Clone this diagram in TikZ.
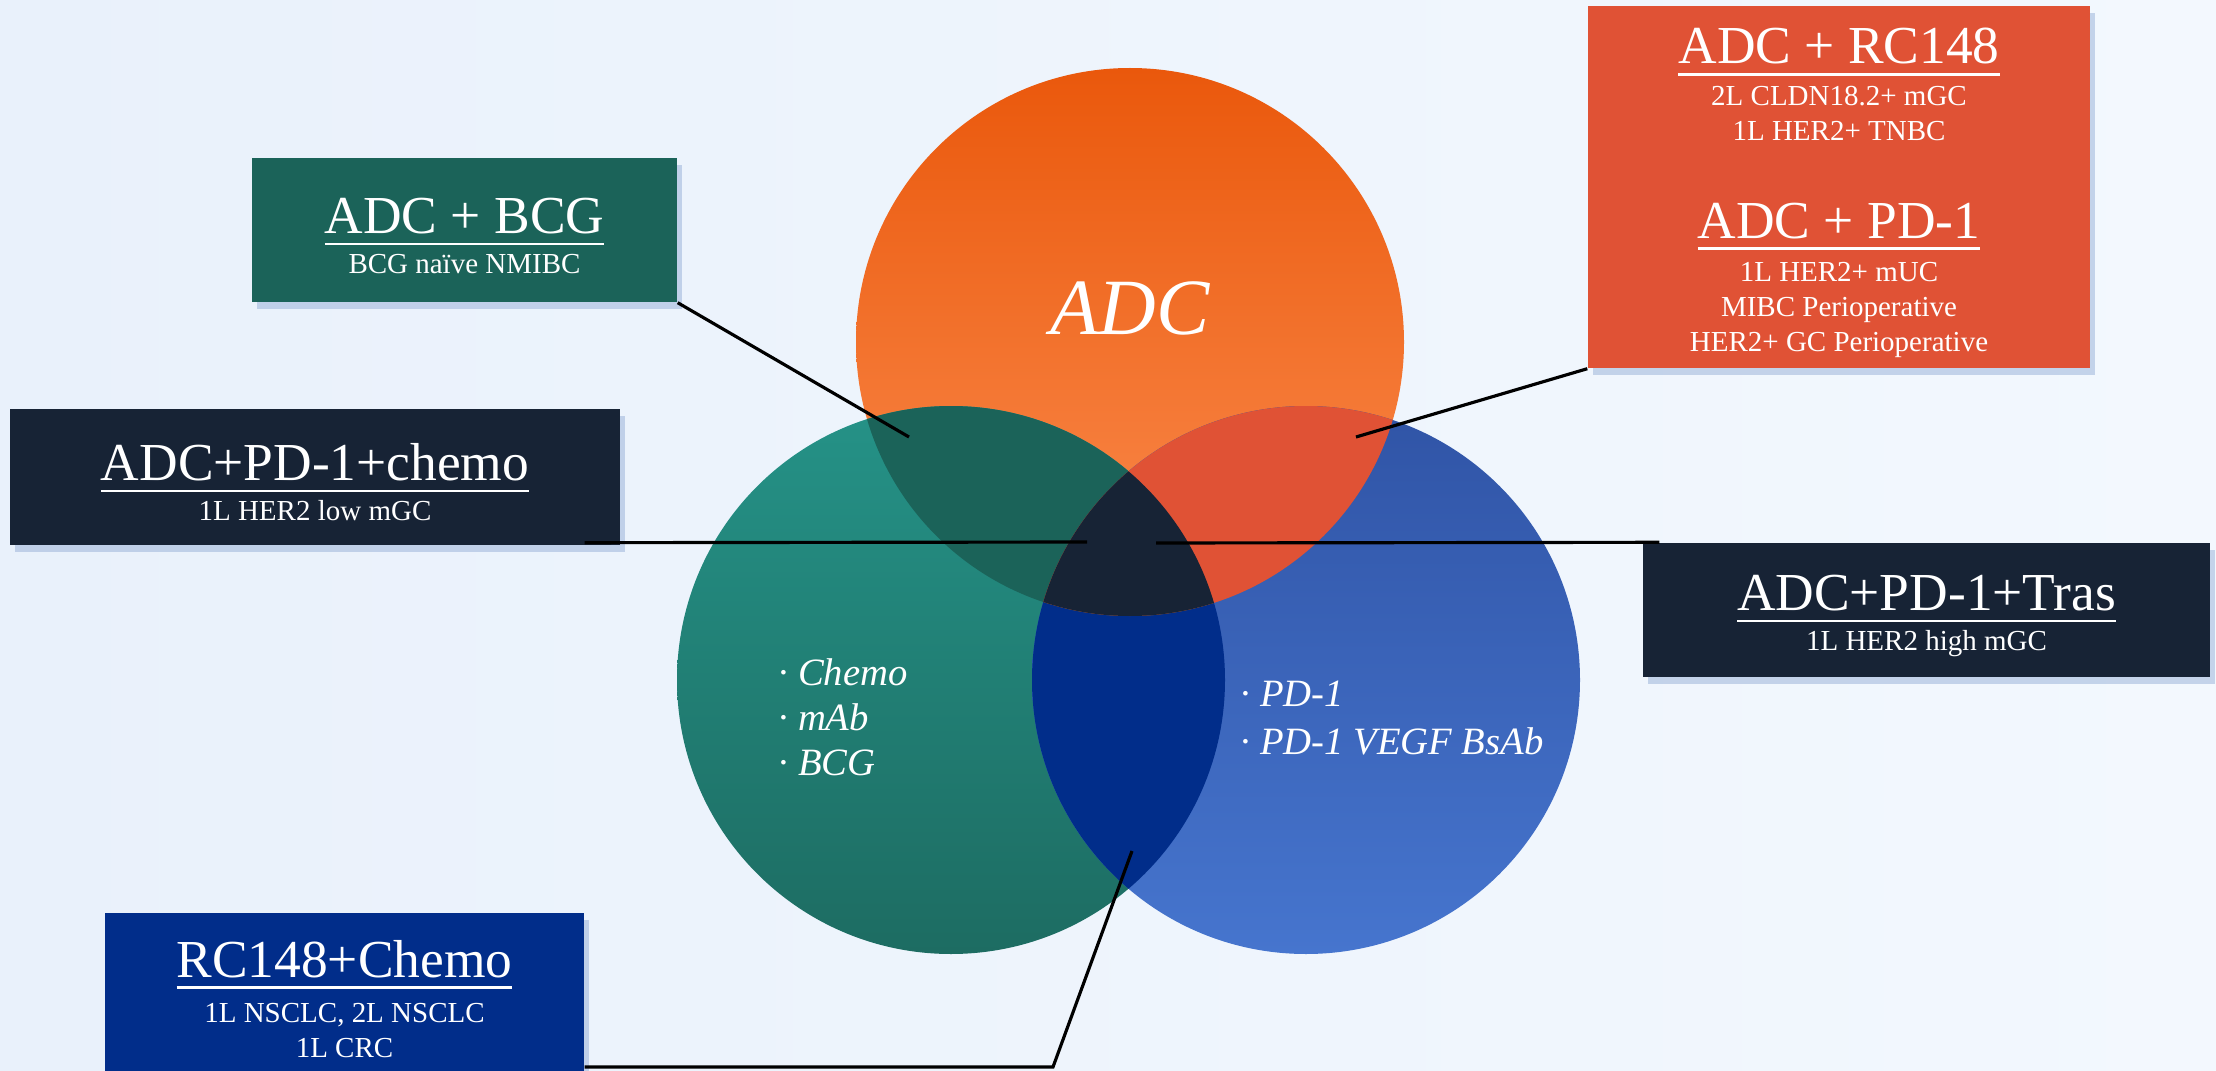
\documentclass[tikz,border=0pt]{standalone}
\usepackage{fontspec}
\setmainfont{Liberation Serif}
\usepackage{tikz}
\usetikzlibrary{positioning,shadows}
\definecolor{BgLeft}{RGB}{233,241,251}
\definecolor{BgRight}{RGB}{243,248,254}
\definecolor{AdcTop}{RGB}{234,88,12}
\definecolor{AdcLight}{RGB}{251,140,78}
\definecolor{TealTop}{RGB}{37,146,135}
\definecolor{TealBot}{RGB}{29,108,98}
\definecolor{BlueTop}{RGB}{48,84,166}
\definecolor{BlueBot}{RGB}{70,117,206}
\definecolor{DeepTeal}{RGB}{27,99,89}
\definecolor{Vermilion}{RGB}{224,82,53}
\definecolor{RoyalNavy}{RGB}{1,45,138}
\definecolor{InkNavy}{RGB}{23,35,53}
\definecolor{ShadowBlue}{RGB}{150,175,215}
\newsavebox\headbox
\newcommand\boxhead[1]{{\fontsize{15.2}{18}\selectfont\sbox\headbox{\rule{0pt}{13.5pt}#1}%
  \vtop{\copy\headbox\kern2.4pt\hrule height 0.8pt}}}

\begin{document}
\begin{tikzpicture}[
      every node/.style={text=white},
      boxNode/.style={inner sep=0pt,align=center,font=\fontsize{8.25}{11.4}\selectfont,
                      drop shadow={shadow xshift=0.5mm,shadow yshift=-0.7mm,fill=ShadowBlue,opacity=0.5}},
      tallNode/.style={boxNode,font=\fontsize{8.25}{10}\selectfont},
      listNode/.style={anchor=west,inner sep=0pt,align=left,font=\fontsize{11}{12.8}\selectfont\itshape},
      ln/.style={line width=0.9pt,color=black}
    ]
    \useasboundingbox (0,0) rectangle (22.16,10.70);
    \shade[left color=BgLeft,right color=BgRight] (0,0) rectangle (22.16,10.70);

    % Three circles
    \coordinate (adcC) at (11.30,7.28);
    \coordinate (chmC) at (9.51,3.90);
    \coordinate (pdC) at (13.06,3.90);
    \def\rr{2.74}
    \shade[top color=AdcTop,middle color=AdcLight,bottom color=AdcLight] (adcC) circle (\rr);
    \shade[top color=TealTop,bottom color=TealBot] (chmC) circle (\rr);
    \shade[top color=BlueTop,bottom color=BlueBot] (pdC) circle (\rr);

    % Overlaps
    \begin{scope}
      \clip (chmC) circle (\rr);
      \fill[RoyalNavy] (pdC) circle (\rr);
    \end{scope}
    \begin{scope}
      \clip (adcC) circle (\rr);
      \fill[DeepTeal] (chmC) circle (\rr);
      \fill[Vermilion] (pdC) circle (\rr);
      \clip (chmC) circle (\rr);
      \fill[InkNavy] (pdC) circle (\rr);
    \end{scope}

    % Circle labels
    \node(adcT) at (11.30,7.62) {\fontsize{22.7}{26}\selectfont\itshape ADC};
    \node(chmL)[listNode] at (7.78,3.53) {· Chemo\\· mAb\\· BCG};
    \node(pdL)[listNode,font=\fontsize{11}{13.7}\selectfont\itshape] at (12.40,3.52) {· PD-1\\· PD-1 VEGF BsAb};

    % Boxes
    \node(bcg)[boxNode,fill=DeepTeal,minimum width=4.25cm,minimum height=1.44cm] at (4.645,8.40)
      {\boxhead{ADC + BCG}\\BCG naïve NMIBC};
    \node(chemo)[boxNode,fill=InkNavy,minimum width=6.10cm,minimum height=1.36cm] at (3.15,5.93)
      {\boxhead{ADC+PD-1+chemo}\\1L HER2 low mGC};
    \node(rcc)[tallNode,fill=RoyalNavy,minimum width=4.79cm,minimum height=1.62cm] at (3.445,0.76)
      {\boxhead{RC148+Chemo}\\[2.8pt]1L NSCLC, 2L NSCLC\\1L CRC};
    \node(rcpd)[tallNode,fill=Vermilion,minimum width=5.02cm,minimum height=3.62cm] at (18.39,8.83)
      {\boxhead{ADC + RC148}\\[1.7pt]2L CLDN18.2+ mGC\\1L HER2+ TNBC\\[13.3pt]
       \boxhead{ADC + PD-1}\\[2.2pt]1L HER2+ mUC\\MIBC Perioperative\\HER2+ GC Perioperative};
    \node(tras)[boxNode,fill=InkNavy,minimum width=5.67cm,minimum height=1.34cm] at (19.265,4.60)
      {\boxhead{ADC+PD-1+Tras}\\1L HER2 high mGC};

    % Leader lines
    \coordinate (bcgEnd) at (9.09,6.33);
    \coordinate (rcEnd) at (13.56,6.33);
    \coordinate (triL) at (10.87,5.28);
    \coordinate (triR) at (11.56,5.27);
    \coordinate (nvBend) at (10.53,0.03);
    \coordinate (nvEnd) at (11.32,2.19);
    \draw[ln] (bcg.south east) -- (bcgEnd);
    \draw[ln] (rcpd.south west) -- (rcEnd);
    \draw[ln] ([shift={(-0.36,0.03)}]chemo.south east) -- (triL);
    \draw[ln] (triR) -- ([xshift=1.7mm]tras.north west);
    \draw[ln] (rcc.south east |- nvBend) -- (nvBend) -- (nvEnd);
  \end{tikzpicture}
\end{document}
